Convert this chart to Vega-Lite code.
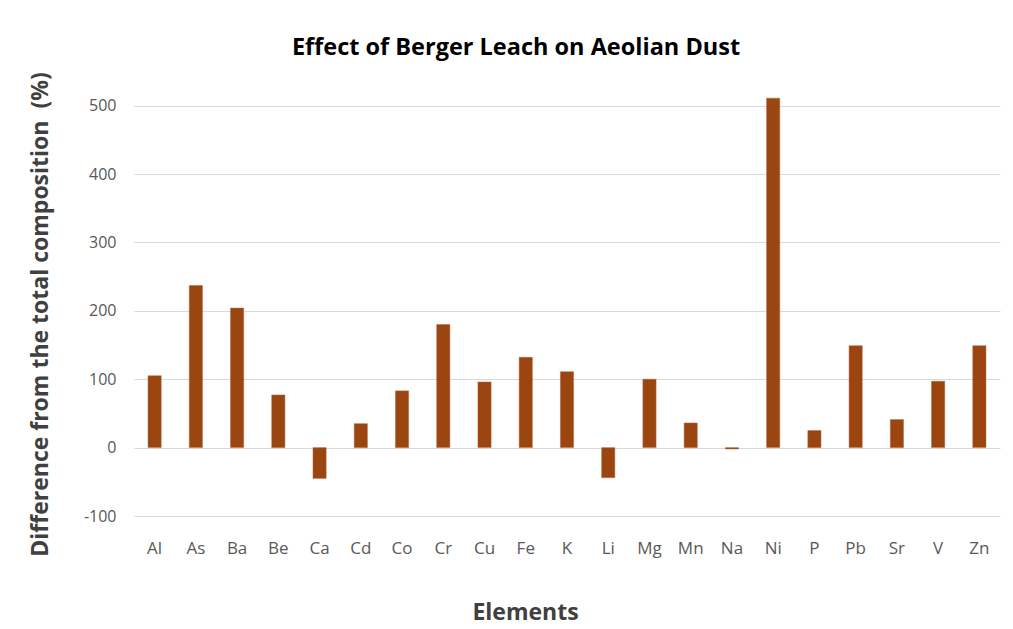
{
  "$schema": "https://vega.github.io/schema/vega-lite/v6.json",
  "width": 866,
  "height": 424,
  "autosize": {"type": "none"},
  "padding": {"left": 134, "top": 92, "right": 13, "bottom": 113},
  "background": "white",
  "config": {
    "font": "Open Sans",
    "view": {"stroke": null}
  },
  "title": {
    "text": "Effect of Berger Leach on Aeolian Dust",
    "fontSize": 23.5,
    "fontWeight": "bold",
    "color": "#000000",
    "anchor": "middle",
    "dx": -51,
    "offset": 12
  },
  "data": {
    "values": [
      {"element": "Al", "value": 105},
      {"element": "As", "value": 237},
      {"element": "Ba", "value": 204},
      {"element": "Be", "value": 77},
      {"element": "Ca", "value": -45},
      {"element": "Cd", "value": 35},
      {"element": "Co", "value": 83},
      {"element": "Cr", "value": 180},
      {"element": "Cu", "value": 96},
      {"element": "Fe", "value": 132},
      {"element": "K", "value": 111},
      {"element": "Li", "value": -44},
      {"element": "Mg", "value": 100},
      {"element": "Mn", "value": 36},
      {"element": "Na", "value": -2},
      {"element": "Ni", "value": 511},
      {"element": "P", "value": 25},
      {"element": "Pb", "value": 149},
      {"element": "Sr", "value": 41},
      {"element": "V", "value": 97},
      {"element": "Zn", "value": 149}
    ]
  },
  "mark": {"type": "bar", "color": "#9B4511", "stroke": "#B0693A", "strokeWidth": 0.5},
  "encoding": {
    "x": {
      "field": "element",
      "type": "nominal",
      "sort": null,
      "scale": {"paddingInner": 0.68, "paddingOuter": 0.34},
      "axis": {
        "title": "Elements",
        "titleFontSize": 23,
        "titleFontWeight": "bold",
        "titleColor": "#404040",
        "titleX": 391,
        "titleY": 96,
        "titleBaseline": "middle",
        "labelAngle": 0,
        "labelFontSize": 17,
        "labelColor": "#595959",
        "labelPadding": 24,
        "domain": false,
        "ticks": false,
        "grid": false
      }
    },
    "y": {
      "field": "value",
      "type": "quantitative",
      "scale": {"domain": [-100, 520], "nice": false, "zero": false},
      "axis": {
        "title": "Difference from the total composition\u00a0\u00a0(%)",
        "titleFontSize": 23,
        "titleFontWeight": "bold",
        "titleColor": "#404040",
        "titleX": -94,
        "titleY": 222,
        "titleBaseline": "middle",
        "titleAnchor": "middle",
        "values": [-100, 0, 100, 200, 300, 400, 500],
        "labelExpr": "replace(datum.label, '\u2212', '-')",
        "labelFontSize": 16,
        "labelColor": "#595959",
        "labelPadding": 18,
        "domain": false,
        "ticks": false,
        "grid": true,
        "gridColor": "#D9D9D9",
        "gridWidth": 1
      }
    }
  }
}
